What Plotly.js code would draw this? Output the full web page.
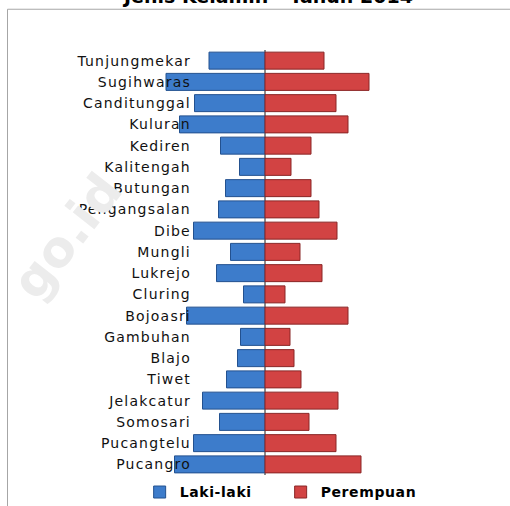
<!DOCTYPE html>
<html>
<head>
<meta charset="utf-8">
<script src="https://cdn.plot.ly/plotly-3.0.1.min.js"></script>
<style>
html,body{margin:0;padding:0;background:#fff;}
#chart{width:510px;height:506px;}
#chart .ytick text{letter-spacing:1.2px;}
#chart .legendtext{letter-spacing:0.6px;}
</style>
</head>
<body>
<div id="chart"></div>
<script>
const desa = ["Tunjungmekar","Sugihwaras","Canditunggal","Kuluran","Kediren","Kalitengah","Butungan","Pengangsalan","Dibe","Mungli","Lukrejo","Cluring","Bojoasri","Gambuhan","Blajo","Tiwet","Jelakcatur","Somosari","Pucangtelu","Pucangro"];
const lakiLaki = [1120,1980,1410,1710,890,510,790,930,1430,690,970,430,1570,490,550,770,1250,910,1430,1810];
const perempuan = [1180,2080,1420,1660,920,520,920,1080,1440,700,1140,400,1660,500,580,720,1460,880,1420,1920];
const titleText = "Jenis Kelamin - Tahun 2014";
const watermark = "go.id";

const traces = [
  {type:"bar", orientation:"h", name:"Laki-laki", y:desa, x:lakiLaki.map(v=>-v),
   marker:{color:"#3D7CCB", line:{color:"#23518f", width:1}}, hoverinfo:"y+text", text:lakiLaki, textposition:"none"},
  {type:"bar", orientation:"h", name:"Perempuan", y:desa, x:perempuan,
   marker:{color:"#D24343", line:{color:"#8a2626", width:1}}, hoverinfo:"y+x", textposition:"none"}
];

const layout = {
  width:510, height:506,
  margin:{l:150, r:130, t:50, b:31, pad:0, autoexpand:false},
  paper_bgcolor:"#ffffff", plot_bgcolor:"#ffffff",
  barmode:"overlay", bargap:0.2,
  showlegend:true,
  font:{family:"DejaVu Sans", color:"#111"},
  xaxis:{range:[-2300,2300], showgrid:false, showticklabels:false, ticks:"",
         zeroline:true, zerolinecolor:"#8c8c8c", zerolinewidth:2, fixedrange:true},
  yaxis:{autorange:"reversed", type:"category", anchor:"free", position:0.178,
         showgrid:false, zeroline:false, showline:false, ticks:"", ticklen:0,
         tickfont:{family:"DejaVu Sans", size:14, color:"#111"}},
  legend:{orientation:"h", x:-0.045, xanchor:"left", y:-0.041, yanchor:"middle",
          font:{family:"DejaVu Sans", size:14, weight:"bold", color:"#000"},
          entrywidth:96, entrywidthmode:"pixels", traceorder:"normal", bgcolor:"rgba(0,0,0,0)"},
  shapes:[{type:"rect", xref:"paper", yref:"paper", x0:(7.5-150)/230, x1:(520-150)/230,
           y0:(474.6-520)/424.4, y1:(474.6-9.5)/424.4, line:{color:"#a6a6a6", width:1}, fillcolor:"rgba(0,0,0,0)", layer:"below"}],
  annotations:[
    {text:watermark, xref:"paper", yref:"paper", x:(-2-150)/230, y:(474.6-236)/424.4,
     showarrow:false, textangle:-52, font:{family:"DejaVu Sans", size:50, weight:"bold", color:"#ececec"}},
    {text:titleText, xref:"paper", yref:"paper", x:(267-150)/230, xanchor:"center",
     y:(474.6-8.5)/424.4, yanchor:"bottom", showarrow:false, borderpad:0,
     font:{family:"DejaVu Sans", size:19, weight:"bold", color:"#000"}}
  ]
};

Plotly.newPlot("chart", traces, layout, {displayModeBar:false, staticPlot:true});
</script>
</body>
</html>
